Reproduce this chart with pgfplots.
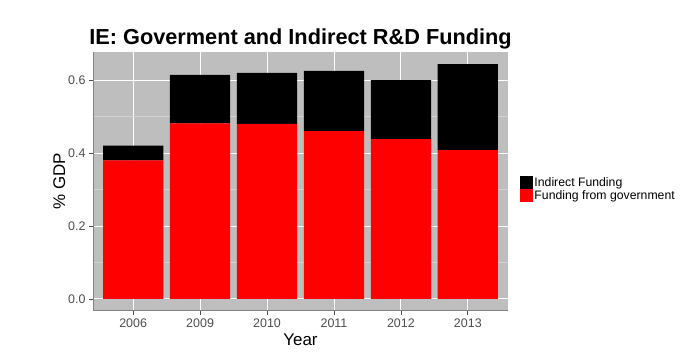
\documentclass[border=0pt]{standalone}
\usepackage{pgfplots}
\pgfplotsset{compat=1.18}
\usepackage{fontspec}
\setmainfont{Liberation Sans}
\definecolor{panel}{HTML}{BEBEBE}
\definecolor{tickgrey}{HTML}{4D4D4D}
\definecolor{minorgrid}{HTML}{D2D2D2}
\begin{document}
\begin{tikzpicture}[x=1bp,y=1bp]
\path[use as bounding box] (0,0) rectangle (700,356);
\begin{axis}[
  at={(93bp,45.3bp)}, anchor=south west,
  scale only axis, width=415bp, height=258.7bp,
  ybar stacked, bar width=0.9,
  xmin=0.4, xmax=6.6, ymin=-0.0323, ymax=0.677,
  xtick={1,2,3,4,5,6},
  xticklabels={2006,2009,2010,2011,2012,2013},
  ytick={0,0.2,0.4,0.6},
  minor ytick={0.1,0.3,0.5},
  yticklabel style={/pgf/number format/.cd,fixed,fixed zerofill,precision=1},
  /pgf/number format/assume math mode=true,
  axis background/.style={fill=panel},
  axis line style={draw=none},
  axis x line*=bottom, axis y line*=left,
  x axis line style={draw=tickgrey!70,line width=0.8bp},
  y axis line style={draw=tickgrey!70,line width=0.8bp},
  tick align=outside, tick style={draw=tickgrey, line width=0.8bp},
  major tick length=4bp, minor tick length=0pt,
  xmajorgrids, ymajorgrids, yminorgrids,
  major grid style={white, line width=0.9bp},
  minor grid style={minorgrid, line width=0.5bp},
  ticklabel style={font=\fontsize{12.5}{13}\selectfont, text=tickgrey},
  xticklabel style={yshift=-1bp},
  xlabel={Year}, ylabel={\% GDP},
  xlabel style={font=\fontsize{17}{18}\selectfont, yshift=1bp},
  ylabel style={font=\fontsize{17}{18}\selectfont, yshift=-4bp},
  title={\bfseries IE: Goverment and Indirect R\&D Funding},
  title style={font=\fontsize{21.8}{23}\selectfont, yshift=-7bp},
  legend style={at={(1.02,0.47)}, anchor=west, draw=none, fill=none,
    font=\fontsize{12.3}{13}\selectfont, row sep=-1.2bp,
    /tikz/every even column/.append style={column sep=0pt}},
  legend cell align=left,
  legend image code/.code={\draw[#1, draw=none] (0bp,-6.5bp) rectangle (13bp,6.5bp);},
  reverse legend,
]
\addplot+[fill=red, draw=none] coordinates {(1,0.38) (2,0.481) (3,0.48) (4,0.46) (5,0.438) (6,0.408)};
\addplot+[fill=black, draw=none] coordinates {(1,0.04) (2,0.133) (3,0.14) (4,0.165) (5,0.162) (6,0.236)};
\legend{Funding from government, Indirect Funding}
\end{axis}
\end{tikzpicture}
\end{document}
